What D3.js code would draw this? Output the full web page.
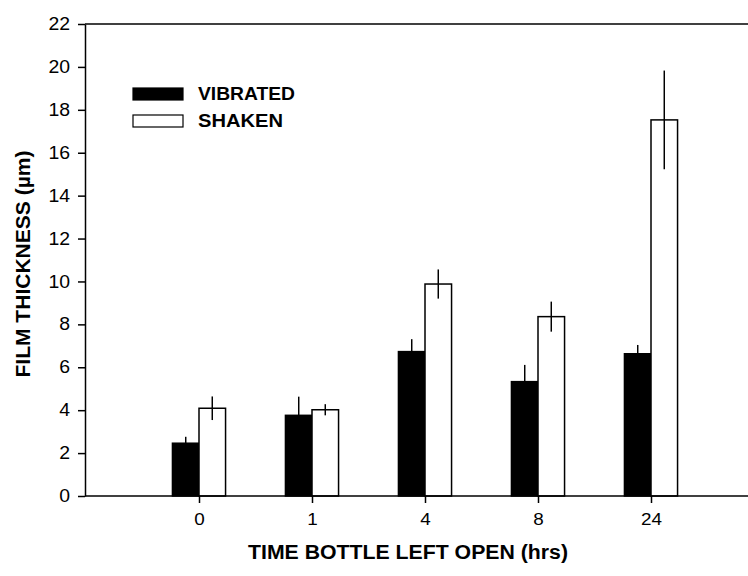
<!DOCTYPE html>
<html>
<head>
<meta charset="utf-8">
<script src="https://cdn.jsdelivr.net/npm/d3@7"></script>
<style>
  body { margin: 0; background: #fff; }
  svg { display: block; font-family: "Liberation Sans", Arial, sans-serif; }
</style>
</head>
<body>
<svg></svg>
<script>
// data
const hours = ["0", "1", "4", "8", "24"];
const seriesNames = ["VIBRATED", "SHAKEN"];
const vibrated = [2.46, 3.76, 6.73, 5.33, 6.63];
const vibratedErr = [0.3, 0.87, 0.58, 0.78, 0.41];
const shaken = [4.09, 4.02, 9.88, 8.36, 17.53];
const shakenErr = [0.55, 0.26, 0.68, 0.7, 2.3];
const yTicks = [0, 2, 4, 6, 8, 10, 12, 14, 16, 18, 20, 22];

const width = 748;
const height = 576;
const margin = { top: 24, right: 0, bottom: 80, left: 85 };

const rows = hours.map((h, i) => ({
  hour: h,
  values: [
    { key: "VIBRATED", value: vibrated[i], err: vibratedErr[i] },
    { key: "SHAKEN", value: shaken[i], err: shakenErr[i] },
  ],
}));

const x = d3
  .scaleBand()
  .domain(hours)
  .range([142.5, 707.5])
  .paddingInner(0.53)
  .paddingOuter(0.265);
const xInner = d3
  .scaleBand()
  .domain(seriesNames)
  .range([0, x.bandwidth()]);
const y = d3
  .scaleLinear()
  .domain([0, 22])
  .range([height - margin.bottom, margin.top]);
const fill = d3.scaleOrdinal().domain(seriesNames).range(["#000", "#fff"]);

const svg = d3.select("svg").attr("width", width).attr("height", height);

// bars
const groups = svg
  .append("g")
  .selectAll("g")
  .data(rows)
  .join("g")
  .attr("transform", (d) => `translate(${x(d.hour)},0)`);

groups
  .selectAll("rect")
  .data((d) => d.values)
  .join("rect")
  .attr("x", (d) => xInner(d.key))
  .attr("y", (d) => y(d.value))
  .attr("width", xInner.bandwidth())
  .attr("height", (d) => y(0) - y(d.value))
  .attr("fill", (d) => fill(d.key))
  .attr("stroke", "#000")
  .attr("stroke-width", 1.5);

// error bars (no caps)
groups
  .selectAll("line")
  .data((d) => d.values)
  .join("line")
  .attr("x1", (d) => xInner(d.key) + xInner.bandwidth() / 2)
  .attr("x2", (d) => xInner(d.key) + xInner.bandwidth() / 2)
  .attr("y1", (d) => y(d.value + d.err))
  .attr("y2", (d) => y(d.value - d.err))
  .attr("stroke", "#000")
  .attr("stroke-width", 1.5);

// y axis
svg
  .append("g")
  .attr("transform", `translate(${margin.left},0)`)
  .call(d3.axisLeft(y).tickValues(yTicks).tickSize(7).tickPadding(8).tickSizeOuter(0))
  .call((g) => g.selectAll("path, line").attr("stroke-width", 1.5))
  .call((g) =>
    g
      .selectAll("text")
      .attr("font-size", 17.5)
      .attr("font-family", null)
      .attr("fill", "#000")
      .attr("textLength", (d) => String(d).length * 10.8)
      .attr("lengthAdjust", "spacingAndGlyphs")
  );

// x axis
svg
  .append("g")
  .attr("transform", `translate(0,${y(0)})`)
  .call(
    d3
      .axisBottom(d3.scalePoint().domain(hours).range([x(hours[0]) + x.bandwidth() / 2, x(hours[4]) + x.bandwidth() / 2]))
      .tickSize(7)
      .tickPadding(10)
      .tickSizeOuter(0)
  )
  .call((g) => g.select(".domain").remove())
  .call((g) => g.selectAll("line").attr("stroke-width", 1.5))
  .call((g) =>
    g
      .selectAll("text")
      .attr("font-size", 17)
      .attr("font-family", null)
      .attr("fill", "#000")
      .attr("textLength", (d) => d.length * 10.5)
      .attr("lengthAdjust", "spacingAndGlyphs")
  );

// bottom and top frame lines
svg
  .append("line")
  .attr("x1", margin.left)
  .attr("x2", width)
  .attr("y1", y(0))
  .attr("y2", y(0))
  .attr("stroke", "#000")
  .attr("stroke-width", 1.5);
svg
  .append("line")
  .attr("x1", margin.left)
  .attr("x2", width)
  .attr("y1", y(22))
  .attr("y2", y(22))
  .attr("stroke", "#000")
  .attr("stroke-width", 1.5);

// axis titles
svg
  .append("text")
  .attr("x", 408)
  .attr("y", 559)
  .attr("text-anchor", "middle")
  .attr("font-size", 20)
  .attr("font-weight", "bold")
  .attr("textLength", 320)
  .attr("lengthAdjust", "spacingAndGlyphs")
  .text("TIME BOTTLE LEFT OPEN (hrs)");

svg
  .append("text")
  .attr("transform", "translate(30,264) rotate(-90)")
  .attr("text-anchor", "middle")
  .attr("font-size", 21)
  .attr("font-weight", "bold")
  .attr("textLength", 227)
  .attr("lengthAdjust", "spacingAndGlyphs")
  .text("FILM THICKNESS  (\u00b5m)");

// legend
const legend = svg
  .append("g")
  .selectAll("g")
  .data(seriesNames)
  .join("g")
  .attr("transform", (d, i) => `translate(133,${88 + i * 27})`);
legend
  .append("rect")
  .attr("width", 50)
  .attr("height", 12)
  .attr("fill", (d) => fill(d))
  .attr("stroke", "#000")
  .attr("stroke-width", 1.2);
legend
  .append("text")
  .attr("x", 65)
  .attr("y", 12)
  .attr("font-size", 18)
  .attr("font-weight", "bold")
  .attr("textLength", (d) => (d === "VIBRATED" ? 97 : 85))
  .attr("lengthAdjust", "spacingAndGlyphs")
  .text((d) => d);
</script>
</body>
</html>
